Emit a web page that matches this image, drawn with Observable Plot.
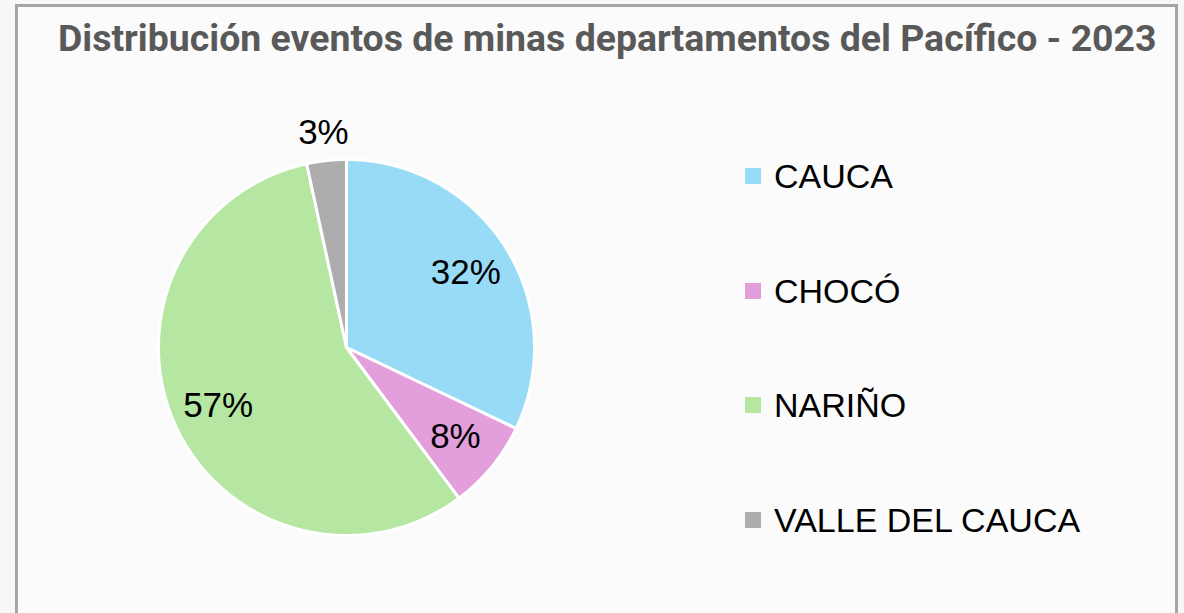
<!DOCTYPE html>
<html>
<head>
<meta charset="utf-8">
<script src="https://cdn.jsdelivr.net/npm/d3@7"></script>
<script src="https://cdn.jsdelivr.net/npm/@observablehq/plot@0.6"></script>
<style>
  html, body { margin: 0; padding: 0; background: #f7f7f7; }
  #wrap { position: relative; width: 1184px; height: 613px; overflow: hidden; background: #f7f7f7; }
  #frame { position: absolute; left: 15px; top: 4px; width: 1157px; height: 640px; border: 3px solid #a6a6a6; background: #fbfbfb; box-sizing: content-box; }
  #title { position: absolute; left: 58px; top: 20px; font-family: Roboto, "Liberation Sans", sans-serif; font-weight: 700; color: #595959; white-space: nowrap; line-height: 1; }
  #chart { position: absolute; left: 0; top: 0; }
  #legend { position: absolute; left: 745px; top: 119px; font-family: "Liberation Sans", Arial, sans-serif; font-size: 34px; color: #000; }
  .item { display: flex; align-items: center; height: 114.5px; }
  .sw { width: 16px; height: 16px; margin-right: 13px; }
  .lab { line-height: 1; }
</style>
</head>
<body>
<div id="wrap">
  <div id="frame"></div>
  <div id="title"></div>
  <div id="chart"></div>
  <div id="legend"></div>
</div>
<script>
const titleText = "Distribución eventos de minas departamentos del Pacífico - 2023";
const categories = ["CAUCA", "CHOCÓ", "NARIÑO", "VALLE DEL CAUCA"];
const values = [32.1, 7.7, 56.8, 3.4];
const colors = ["#97dbf7", "#e39fdc", "#b5e6a2", "#adadad"];

const data = categories.map((name, i) => ({name, value: values[i]}));
const total = d3.sum(values);
const arcs = d3.pie().sort(null).value(d => d.value)(data);

// slice outlines from pie angles (unit circle, y up)
const slicePts = [];
for (const a of arcs) {
  const name = a.data.name;
  slicePts.push({name, x: 0, y: 0});
  const n = Math.max(2, Math.ceil((a.endAngle - a.startAngle) / (Math.PI / 360)));
  for (let k = 0; k <= n; k++) {
    const t = a.startAngle + (a.endAngle - a.startAngle) * k / n;
    slicePts.push({name, x: Math.sin(t), y: Math.cos(t)});
  }
  slicePts.push({name, x: 0, y: 0});
}

// labels
const labels = arcs.map(a => {
  const m = (a.startAngle + a.endAngle) / 2;
  const share = a.data.value / total;
  const r = share < 0.05 ? 1.15 : 0.75;
  return {text: Math.round(share * 100) + "%", x: r * Math.sin(m), y: r * Math.cos(m)};
});

const W = 1184, H = 613;
const chart = Plot.plot({
  width: W, height: H,
  marginLeft: 158, marginRight: W - 534, marginTop: 159, marginBottom: H - 535,
  style: {background: "transparent", overflow: "visible"},
  x: {domain: [-1, 1], axis: null},
  y: {domain: [-1, 1], axis: null},
  color: {domain: categories, range: colors},
  marks: [
    Plot.line(slicePts, {x: "x", y: "y", z: "name", fill: "name", stroke: "white", strokeWidth: 3, strokeLinejoin: "round", curve: "linear"}),
    Plot.text(labels, {x: "x", y: "y", text: "text", fontSize: 35, fill: "black", fontFamily: "Liberation Sans, Arial, sans-serif"})
  ]
});
document.getElementById("chart").appendChild(chart);

// title fitted to its span
const titleEl = document.getElementById("title");
titleEl.textContent = titleText;
const ctx = document.createElement("canvas").getContext("2d");
ctx.font = "700 30px Roboto";
const w30 = ctx.measureText(titleText).width;
const fs = 30 * 1099 / w30;
titleEl.style.fontSize = fs.toFixed(2) + "px";

// legend
const legend = document.getElementById("legend");
categories.forEach((c, i) => {
  const it = document.createElement("div");
  it.className = "item";
  const sw = document.createElement("div");
  sw.className = "sw";
  sw.style.background = colors[i];
  const lab = document.createElement("div");
  lab.className = "lab";
  lab.textContent = c;
  it.appendChild(sw); it.appendChild(lab);
  legend.appendChild(it);
});
</script>
</body>
</html>
